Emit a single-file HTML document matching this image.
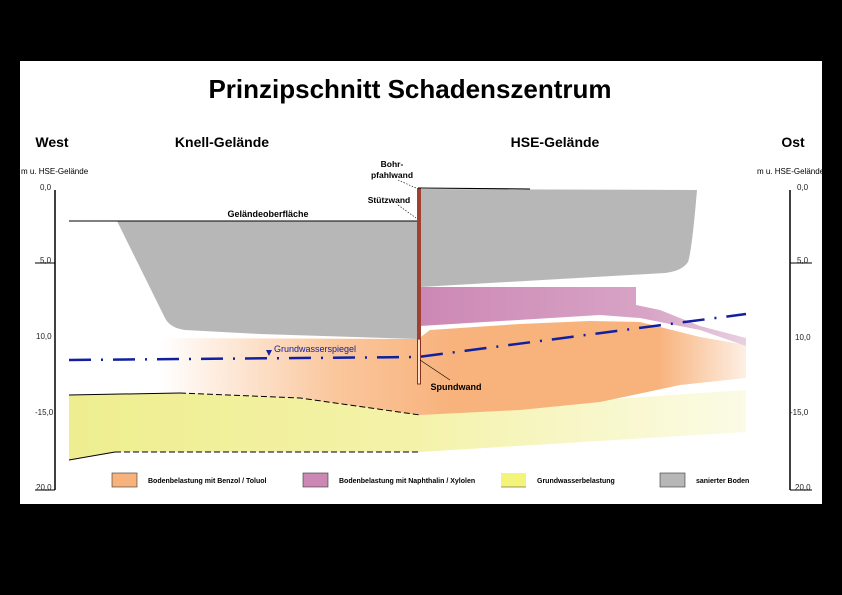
<!DOCTYPE html>
<html><head><meta charset="utf-8"><style>
html,body{margin:0;padding:0;background:#000;width:842px;height:595px;overflow:hidden}
svg{display:block}
text{font-family:"Liberation Sans",sans-serif}
</style></head><body>
<svg width="842" height="595" viewBox="0 0 842 595" xmlns="http://www.w3.org/2000/svg">
<defs>
<linearGradient id="og" x1="0" x2="1" y1="0" y2="0">
<stop offset="0" stop-color="#f9b883" stop-opacity="0"/>
<stop offset="0.3" stop-color="#f9b883" stop-opacity="0.8"/>
<stop offset="0.5" stop-color="#f8b27c"/>
<stop offset="0.85" stop-color="#f8b27c"/>
<stop offset="1" stop-color="#f8b27c" stop-opacity="0.2"/>
</linearGradient>
<linearGradient id="yg" x1="0" x2="1" y1="0" y2="0">
<stop offset="0" stop-color="#eeee90"/>
<stop offset="0.5" stop-color="#f4f2a8"/>
<stop offset="1" stop-color="#fbfbe6"/>
</linearGradient>
<linearGradient id="pg" x1="0" x2="1" y1="0" y2="0">
<stop offset="0" stop-color="#cc88b4"/>
<stop offset="0.7" stop-color="#d8a4c6"/>
<stop offset="1" stop-color="#e8d0e0"/>
</linearGradient>
</defs>
<rect x="20" y="61" width="802" height="443" fill="#fff"/>
<text x="410" y="98" font-size="26" font-weight="bold" text-anchor="middle">Prinzipschnitt Schadenszentrum</text>
<text x="52" y="147" font-size="14" font-weight="bold" text-anchor="middle">West</text>
<text x="222" y="147" font-size="14" font-weight="bold" text-anchor="middle">Knell-Gelände</text>
<text x="555" y="147" font-size="14" font-weight="bold" text-anchor="middle">HSE-Gelände</text>
<text x="793" y="147" font-size="14" font-weight="bold" text-anchor="middle">Ost</text>
<text x="21" y="174" font-size="8">m u. HSE-Gelände</text>
<text x="757" y="174" font-size="8">m u. HSE-Gelände</text>

<path d="M69,395 L180,393 L300,398 L420,415 L600,400 L746,390 L746,432 L420,452 L115,452 L69,460 Z" fill="url(#yg)"/>
<path d="M160,338 L418,339 L430,330 L520,324 L590,321 L640,322 L700,337 L746,345 L746,378 L680,385 L600,402 L520,410 L420,415 L300,398 L180,393 L160,393 Z" fill="url(#og)"/>
<path d="M420,287 L636,287 L636,305 L660,310 L700,326 L746,338 L746,346 L700,330 L640,318 L600,315 L420,326 Z" fill="url(#pg)"/>
<path d="M117,221 L418,221 L418,339 L260,334 L185,330 Q170,328 165,318 Z" fill="#b7b7b7"/>
<path d="M420,189 L697,190 Q692,250 688,262 Q682,271 665,273 L420,287 Z" fill="#b7b7b7"/>
<path d="M180,393 L300,398 L420,415" stroke="#000" stroke-width="1" fill="none" stroke-dasharray="6,3"/>
<path d="M115,452 L420,452" stroke="#000" stroke-width="1" fill="none" stroke-dasharray="6,3"/>
<path d="M69,395 L180,393 M69,460 L115,452" stroke="#000" stroke-width="1" fill="none"/>
<line x1="69" y1="221" x2="418" y2="221" stroke="#000" stroke-width="1"/>
<text x="268" y="217" font-size="9" font-weight="bold" text-anchor="middle">Geländeoberfläche</text>
<rect x="417" y="188" width="4" height="151" fill="#a04030"/>
<rect x="417.5" y="339" width="3" height="45" fill="#fbe0c8" stroke="#8a3020" stroke-width="1"/>
<line x1="418" y1="188" x2="530" y2="189" stroke="#000" stroke-width="1"/>
<text x="392" y="167" font-size="8.5" font-weight="bold" text-anchor="middle">Bohr-</text>
<text x="392" y="178" font-size="8.5" font-weight="bold" text-anchor="middle">pfahlwand</text>
<path d="M398,180 L416,188" stroke="#000" stroke-width="0.6" stroke-dasharray="1.5,1.5"/>
<text x="389" y="203" font-size="8.5" font-weight="bold" text-anchor="middle">Stützwand</text>
<path d="M398,205 L416,218" stroke="#000" stroke-width="0.6" stroke-dasharray="1.5,1.5"/>
<path d="M420,360 L450,380" stroke="#000" stroke-width="0.6"/>
<text x="456" y="390" font-size="9" font-weight="bold" text-anchor="middle">Spundwand</text>
<path d="M69,360 L418,357 L746,314" stroke="#1020a0" stroke-width="2.5" fill="none" stroke-dasharray="22,10,2,10"/>
<polygon points="266,350 272,350 269,356" fill="#1020a0"/>
<text x="274" y="352" font-size="9" fill="#1020a0">Grundwasserspiegel</text>
<g stroke="#000" stroke-width="1.5" fill="none">
<line x1="55" y1="190" x2="55" y2="490"/>
<line x1="790" y1="190" x2="790" y2="490"/>
</g>
<g stroke="#000" stroke-width="1" fill="none">
<line x1="35" y1="263" x2="55" y2="263"/><line x1="35" y1="490" x2="55" y2="490"/>
<line x1="790" y1="263" x2="812" y2="263"/><line x1="790" y1="490" x2="812" y2="490"/>
</g>
<g font-size="8" fill="#222">
<text x="40" y="190">0,0</text><text x="40" y="263">5,0</text><text x="36" y="339">10,0</text><text x="35" y="415">-15,0</text><text x="36" y="490">20,0</text>
<text x="797" y="190">0,0</text><text x="797" y="263">5,0</text><text x="795" y="340">10,0</text><text x="790" y="415">-15,0</text><text x="795" y="490">20,0</text>
</g>
<rect x="112" y="473" width="25" height="14" fill="#f8b27c" stroke="#333" stroke-width="0.6"/>
<text x="148" y="483" font-size="7" font-weight="bold">Bodenbelastung mit Benzol / Toluol</text>
<rect x="303" y="473" width="25" height="14" fill="#cc88b4" stroke="#333" stroke-width="0.6"/>
<text x="339" y="483" font-size="7" font-weight="bold">Bodenbelastung mit Naphthalin / Xylolen</text>
<rect x="501" y="473" width="25" height="14" fill="#f4f47a"/>
<line x1="501" y1="487" x2="526" y2="487" stroke="#333" stroke-width="0.6"/>
<text x="537" y="483" font-size="7" font-weight="bold">Grundwasserbelastung</text>
<rect x="660" y="473" width="25" height="14" fill="#b7b7b7" stroke="#333" stroke-width="0.6"/>
<text x="696" y="483" font-size="7" font-weight="bold">sanierter Boden</text>
</svg>
</body></html>
